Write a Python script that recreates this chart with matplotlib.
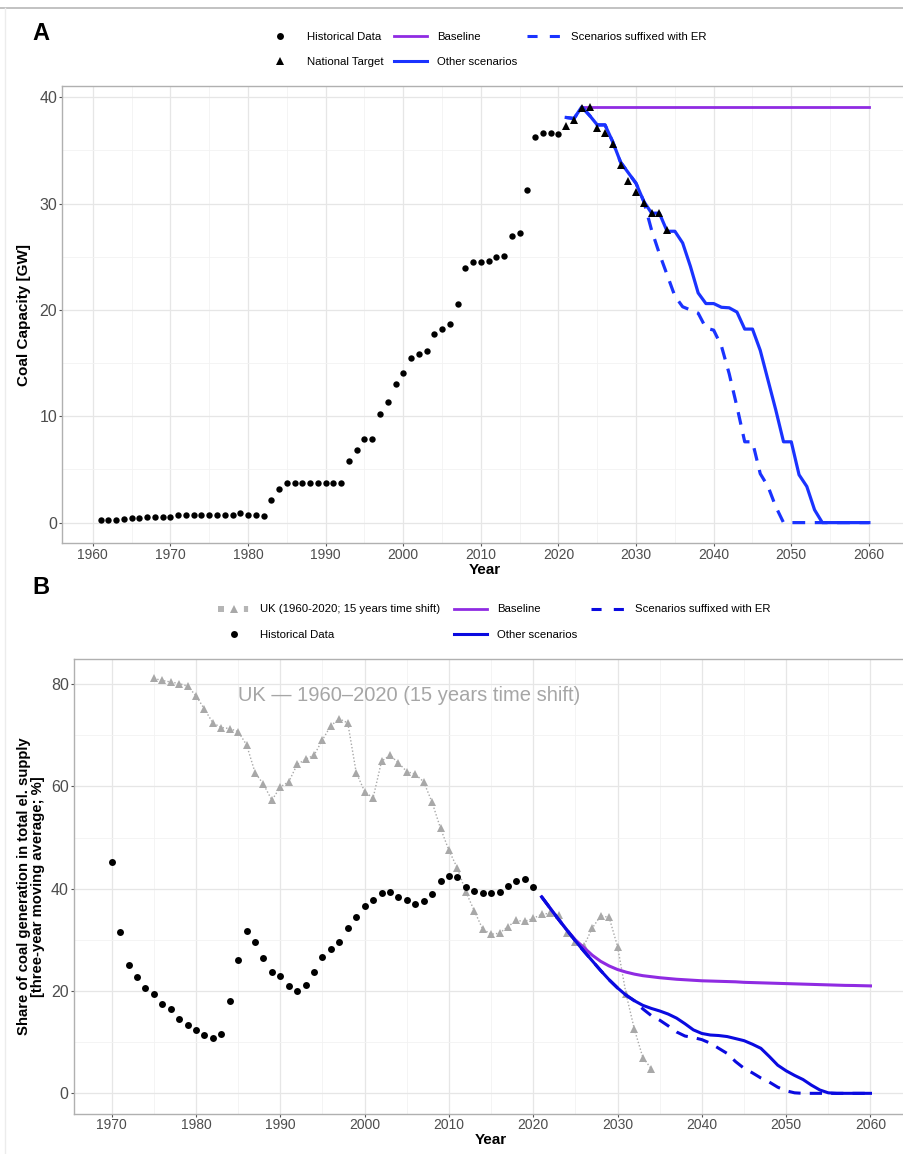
import matplotlib
matplotlib.use("Agg")
import matplotlib.pyplot as plt
from matplotlib.lines import Line2D
from matplotlib.legend_handler import HandlerTuple
import numpy as np

plt.rcParams['font.family'] = ['Liberation Sans', 'DejaVu Sans']

# ---------------- Panel A data ----------------
hist_years_A = list(range(1961, 2021))
hist_cap_A = [0.2, 0.2, 0.22, 0.38, 0.47, 0.47, 0.53, 0.56, 0.53, 0.56,
              0.69, 0.69, 0.69, 0.69, 0.69, 0.69, 0.69, 0.69, 0.88, 0.75,
              0.75, 0.66, 2.1, 3.17, 3.7, 3.7, 3.7, 3.7, 3.7, 3.7,
              3.7, 3.7, 5.77, 6.83, 7.84, 7.84, 10.19, 11.35, 13.04, 14.04,
              15.5, 15.9, 16.14, 17.7, 18.2, 18.7, 20.6, 23.95, 24.5, 24.5,
              24.6, 25.0, 25.1, 27.0, 27.2, 31.25, 36.3, 36.6, 36.6, 36.5]

target_years_A = list(range(2021, 2035))
target_cap_A = [37.3, 37.9, 39.0, 39.1, 37.1, 36.6, 35.6, 33.6, 32.1, 31.1,
                30.1, 29.1, 29.1, 27.5]

baseline_years_A = [2023, 2060]
baseline_cap_A = [39.1, 39.1]

scen_years_A = list(range(2021, 2061))
other_cap_A = [38.1, 38.0, 39.1, 38.3, 37.4, 37.4, 35.8, 33.9, 32.9, 31.9,
               30.2, 29.1, 29.1, 27.4, 27.4, 26.3, 24.1, 21.6, 20.6, 20.6,
               20.25, 20.2, 19.8, 18.2, 18.2, 16.2, 13.4, 10.6, 7.6, 7.6,
               4.5, 3.4, 1.2, 0.0, 0.0, 0.0, 0.0, 0.0, 0.0, 0.0]
er_cap_A = [38.1, 38.0, 39.1, 38.3, 37.4, 37.4, 35.8, 33.9, 32.9, 31.9,
            30.2, 27.5, 25.3, 23.3, 21.3, 20.3, 20.0, 19.7, 18.3, 18.1,
            16.6, 14.0, 10.9, 7.6, 7.6, 4.6, 3.4, 1.5, 0.0, 0.0,
            0.0, 0.0, 0.0, 0.0, 0.0, 0.0, 0.0, 0.0, 0.0, 0.0]

# ---------------- Panel B data ----------------
hist_years_B = list(range(1970, 2021))
hist_share_B = [45.3, 31.6, 25.1, 22.7, 20.5, 19.5, 17.4, 16.4, 14.5, 13.4,
                12.3, 11.5, 10.9, 11.6, 18.1, 26.1, 31.8, 29.5, 26.4, 23.7,
                22.9, 21.0, 20.0, 21.1, 23.8, 26.6, 28.3, 29.5, 32.4, 34.5,
                36.7, 37.8, 39.1, 39.3, 38.4, 37.7, 37.1, 37.5, 38.9, 41.6,
                42.5, 42.2, 40.4, 39.5, 39.1, 39.1, 39.3, 40.6, 41.5, 41.8,
                40.3]

uk_years_B = list(range(1975, 2035))
uk_share_B = [81.1, 80.7, 80.4, 80.1, 79.6, 77.7, 75.1, 72.4, 71.5, 71.3,
              70.7, 68.1, 62.7, 60.4, 57.3, 59.9, 60.9, 64.3, 65.3, 66.1,
              69.1, 71.9, 73.2, 72.4, 62.7, 59.0, 57.7, 64.9, 66.1, 64.6,
              62.9, 62.4, 60.9, 56.9, 51.8, 47.5, 44.0, 39.4, 35.7, 32.1,
              31.1, 31.3, 32.6, 33.8, 33.6, 34.2, 35.0, 35.2, 34.8, 31.3,
              29.6, 28.8, 32.3, 34.7, 34.4, 28.7, 19.5, 12.5, 7.0, 4.8]

scen_years_B = list(range(2021, 2061))
baseline_share_B = [38.4, 36.2, 34.0, 31.9, 30.0, 28.5, 27.0, 25.8, 24.9, 24.2,
                    23.7, 23.3, 23.0, 22.8, 22.6, 22.45, 22.3, 22.2, 22.1, 22.0,
                    21.95, 21.9, 21.85, 21.8, 21.7, 21.65, 21.6, 21.55, 21.5, 21.45,
                    21.4, 21.35, 21.3, 21.25, 21.2, 21.15, 21.1, 21.08, 21.04, 21.0]
other_share_B = [38.4, 36.2, 34.0, 31.9, 29.8, 27.8, 25.9, 24.0, 22.2, 20.6,
                 19.2, 18.1, 17.2, 16.6, 16.1, 15.5, 14.7, 13.6, 12.4, 11.7,
                 11.4, 11.3, 11.1, 10.7, 10.3, 9.6, 8.8, 7.2, 5.5, 4.4,
                 3.5, 2.7, 1.6, 0.65, 0.1, 0.0, 0.0, 0.0, 0.0, 0.0]
er_share_B = [38.4, 36.2, 34.0, 31.9, 29.8, 27.8, 25.9, 24.0, 22.2, 20.6,
              19.2, 18.1, 16.5, 15.2, 14.3, 13.2, 12.0, 11.2, 10.9, 10.5,
              9.8, 8.8, 7.8, 6.2, 4.9, 4.0, 3.0, 2.2, 1.2, 0.5,
              0.1, 0.0, 0.0, 0.0, 0.0, 0.0, 0.0, 0.0, 0.0, 0.0]

# ---------------- styling ----------------
PURPLE = '#8f2be2'
BLUE_A = '#1a33ff'
BLUE_B = '#0a0ae0'
GREY_UK = '#a8a8a8'
TICK_C = '#4d4d4d'
W, H = 904, 1154

fig = plt.figure(figsize=(W / 100, H / 100), dpi=100)


def px_axes(left, top, right, bottom):
    return fig.add_axes([left / W, 1 - bottom / H, (right - left) / W, (bottom - top) / H])


def style(ax, xmajor, xminor, ymajor, yminor):
    ax.set_xticks(xmajor)
    ax.set_xticks(xminor, minor=True)
    ax.set_yticks(ymajor)
    ax.set_yticks(yminor, minor=True)
    ax.grid(True, which='major', color='#e6e6e6', lw=0.9, zorder=0)
    ax.grid(True, which='minor', color='#f2f2f2', lw=0.6, zorder=0)
    ax.set_axisbelow(True)
    for s in ax.spines.values():
        s.set_color('#b0b0b0')
        s.set_linewidth(1.0)
    ax.tick_params(which='major', length=2.2, width=0.8, color='#555555', labelcolor=TICK_C)
    ax.tick_params(which='minor', length=0)
    ax.tick_params(axis='y', labelsize=11.5, pad=1.5)
    ax.tick_params(axis='x', labelsize=10, pad=1.0)


# ---------------- Panel A ----------------
axA = px_axes(62.2, 86, 907.3, 543.4)
axA.set_xlim(1956.05, 2064.95)
axA.set_ylim(-1.955, 41.06)
style(axA, range(1960, 2061, 10), range(1965, 2060, 10), range(0, 41, 10), range(5, 40, 10))

axA.plot(baseline_years_A, baseline_cap_A, color=PURPLE, lw=2.0, zorder=3)
axA.plot(scen_years_A, er_cap_A, color=BLUE_A, lw=2.3, ls=(0, (4, 3)), zorder=3)
axA.plot(scen_years_A, other_cap_A, color=BLUE_A, lw=2.3, zorder=4)
axA.plot(hist_years_A, hist_cap_A, 'o', color='black', ms=4.6, mew=0, zorder=5)
axA.plot(target_years_A, target_cap_A, '^', color='black', ms=5.2, mew=0, zorder=5)

axA.set_xlabel('Year', fontsize=11, fontweight='bold', labelpad=0.5)
axA.set_ylabel('Coal Capacity [GW]', fontsize=11, fontweight='bold', labelpad=6)

# ---------------- Panel B ----------------
axB = px_axes(73.8, 659, 908.4, 1113.8)
axB.set_xlim(1965.5, 2064.5)
axB.set_ylim(-4.0, 84.9)
style(axB, range(1970, 2061, 10), range(1975, 2060, 10), range(0, 81, 20), range(10, 80, 20))

axB.plot(uk_years_B, uk_share_B, ls=(0, (1, 1.5)), color=GREY_UK, lw=1.0, zorder=2)
axB.plot(uk_years_B, uk_share_B, '^', color=GREY_UK, ms=5.2, mew=0, zorder=3)
axB.plot(scen_years_B, baseline_share_B, color=PURPLE, lw=2.2, zorder=4)
axB.plot(scen_years_B, er_share_B, color=BLUE_B, lw=2.2, ls=(0, (4, 3)), zorder=4)
axB.plot(scen_years_B, other_share_B, color=BLUE_B, lw=2.2, zorder=5)
axB.plot(hist_years_B, hist_share_B, 'o', color='black', ms=5.0, mew=0, zorder=6)

axB.text(1985.0, 77.8, 'UK \u2014 1960\u20132020 (15 years time shift)', fontsize=14.5,
         color='#a6a6a6', ha='left', va='center', zorder=7)

axB.set_xlabel('Year', fontsize=11, fontweight='bold', labelpad=0.5)
axB.set_ylabel('Share of coal generation in total el. supply\n[three-year moving average; %]',
               fontsize=10.7, fontweight='bold', labelpad=4, linespacing=1.0)

# ---------------- legends ----------------
blank = Line2D([], [], alpha=0)
h_hist = Line2D([], [], marker='o', color='black', ls='none', ms=5, mew=0)
h_tgt = Line2D([], [], marker='^', color='black', ls='none', ms=5.5, mew=0)
h_base = Line2D([], [], color=PURPLE, lw=2)
h_other_A = Line2D([], [], color=BLUE_A, lw=2.2)
h_er_A = Line2D([], [], color=BLUE_A, lw=2.2, ls=(0, (3.3, 4.0)))

leg_kw = dict(frameon=False, fontsize=8.2, handlelength=2.9, handletextpad=0.9,
              columnspacing=0.9, labelspacing=1.32, borderpad=0, borderaxespad=0,
              loc='upper left', ncol=3)

fig.legend([h_hist, h_tgt, h_base, h_other_A, h_er_A, blank],
           ['Historical Data', 'National Target', 'Baseline', 'Other scenarios',
            'Scenarios suffixed with ER', ''],
           bbox_to_anchor=(263.5 / W, 1 - 32.3 / H), **leg_kw)

uk_sq = Line2D([], [], marker='s', color='#b5b5b5', ls='none', ms=4.5, mew=0)
uk_tri = Line2D([], [], marker='^', color=GREY_UK, ls='none', ms=5.5, mew=0)
uk_bar = Line2D([], [], marker='|', color='#b5b5b5', ls='none', ms=5, mew=3)
h_other_B = Line2D([], [], color=BLUE_B, lw=2.2)
h_er_B = Line2D([], [], color=BLUE_B, lw=2.2, ls=(0, (3.3, 4.0)))

leg_kw_B = dict(leg_kw)
leg_kw_B['columnspacing'] = 1.2
fig.legend([(uk_sq, uk_tri, uk_bar), h_hist, h_base, h_other_B, h_er_B, blank],
           ['UK (1960-2020; 15 years time shift)', 'Historical Data', 'Baseline',
            'Other scenarios', 'Scenarios suffixed with ER', ''],
           bbox_to_anchor=(217 / W, 1 - 604.5 / H),
           handler_map={tuple: HandlerTuple(ndivide=None, pad=0.3)}, **leg_kw_B)

# ---------------- panel letters & frame ----------------
fig.text(41 / W, 1 - 33.5 / H, 'A', fontsize=17, fontweight='bold', ha='center', va='center')
fig.text(41 / W, 1 - 587 / H, 'B', fontsize=17, fontweight='bold', ha='center', va='center')
fig.add_artist(Line2D([0, 1], [1 - 8 / H, 1 - 8 / H], transform=fig.transFigure,
                      color='#b8b8b8', lw=1.2))
fig.add_artist(Line2D([5 / W, 5 / W], [0, 1 - 8 / H], transform=fig.transFigure,
                      color='#ececec', lw=1.0))

fig.savefig('out.png', dpi=100)
